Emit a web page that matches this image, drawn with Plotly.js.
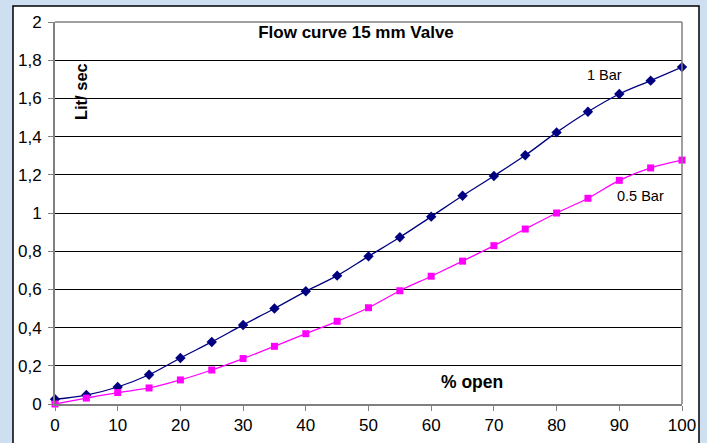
<!DOCTYPE html>
<html>
<head>
<meta charset="utf-8">
<script src="https://cdn.plot.ly/plotly-3.0.1.min.js"></script>
<style>
html,body{margin:0;padding:0;background:#cddff0;}
#chart{width:707px;height:443px;}
</style>
</head>
<body>
<div id="chart"></div>
<script>
const percentOpen = [0,5,10,15,20,25,30,35,40,45,50,55,60,65,70,75,80,85,90,95,100];
const flow1Bar = [0.025,0.047,0.089,0.153,0.241,0.325,0.414,0.500,0.590,0.672,0.773,0.873,0.981,1.090,1.194,1.302,1.422,1.530,1.623,1.693,1.764];
const flowHalfBar = [0.000,0.031,0.060,0.084,0.126,0.178,0.238,0.302,0.368,0.433,0.504,0.593,0.669,0.748,0.829,0.916,1.000,1.077,1.171,1.236,1.277];
const yTicks = [0,0.2,0.4,0.6,0.8,1,1.2,1.4,1.6,1.8,2];
const xTicks = [0,10,20,30,40,50,60,70,80,90,100];

const FONT = 'Liberation Sans, Arial, sans-serif';

const traces = [
  {
    x: percentOpen, y: flow1Bar, type: 'scatter', mode: 'lines+markers', name: '1 Bar',
    line: {color: '#000080', width: 1.3, shape: 'spline', smoothing: 1},
    marker: {symbol: 'diamond', size: 8, color: '#000080'},
    cliponaxis: false
  },
  {
    x: percentOpen, y: flowHalfBar, type: 'scatter', mode: 'lines+markers', name: '0.5 Bar',
    line: {color: '#ff00ff', width: 1.3, shape: 'spline', smoothing: 1},
    marker: {symbol: 'square', size: 7, color: '#ff00ff'},
    cliponaxis: false
  }
];

const layout = {
  width: 707, height: 443,
  margin: {l: 55, r: 25, t: 22, b: 39},
  paper_bgcolor: '#cddff0',
  plot_bgcolor: '#ffffff',
  separators: ',.',
  showlegend: false,
  font: {family: FONT, color: '#000'},
  title: {
    text: '<b>Flow curve 15 mm Valve</b>',
    font: {family: FONT, size: 17, color: '#000'},
    xref: 'container', yref: 'container',
    x: 356/707, y: 1 - 32/443, xanchor: 'center', yanchor: 'middle'
  },
  xaxis: {
    range: [0, 100], tickvals: xTicks, ticktext: xTicks.map(String),
    ticks: 'outside', ticklen: 5, tickcolor: '#808080', tickwidth: 1,
    showline: true, linecolor: '#808080', linewidth: 2,
    showgrid: false, zeroline: false,
    tickfont: {family: FONT, size: 17, color: '#000'}
  },
  yaxis: {
    range: [0, 2], tickvals: yTicks,
    ticks: 'outside', ticklen: 5, tickcolor: '#808080', tickwidth: 1,
    ticklabelstandoff: 3,
    showline: true, linecolor: '#808080', linewidth: 2,
    showgrid: true, gridcolor: '#000000', gridwidth: 1,
    zeroline: false,
    tickfont: {family: FONT, size: 17, color: '#000'}
  },
  shapes: [
    {type: 'rect', xref: 'paper', yref: 'paper', x0: -0.067, x1: 1.0271, y0: -0.2, y1: 1.0419,
     fillcolor: '#ffffff', line: {color: '#000000', width: 1.5}, layer: 'below'},
    {type: 'line', xref: 'paper', yref: 'paper', x0: 0, x1: 1, y0: 1, y1: 1,
     line: {color: '#808080', width: 1.5}},
    {type: 'line', xref: 'paper', yref: 'paper', x0: 1, x1: 1, y0: 0, y1: 1,
     line: {color: '#808080', width: 1.5}}
  ],
  annotations: [
    {x: 87.7, y: 1.722, xref: 'x', yref: 'y', text: '1 Bar', showarrow: false,
     font: {family: FONT, size: 14.5, color: '#000'}},
    {x: 93.4, y: 1.089, xref: 'x', yref: 'y', text: '0.5 Bar', showarrow: false,
     font: {family: FONT, size: 14.5, color: '#000'}},
    {x: 66.5, y: 0.115, xref: 'x', yref: 'y', text: '<b>% open</b>', showarrow: false,
     font: {family: FONT, size: 17.5, color: '#000'}},
    {x: 4.15, y: 1.633, xref: 'x', yref: 'y', text: '<b>Lit/ sec</b>', showarrow: false, textangle: -90,
     font: {family: FONT, size: 16.5, color: '#000'}}
  ]
};

Plotly.newPlot('chart', traces, layout, {displayModeBar: false, staticPlot: true});
</script>
</body>
</html>
